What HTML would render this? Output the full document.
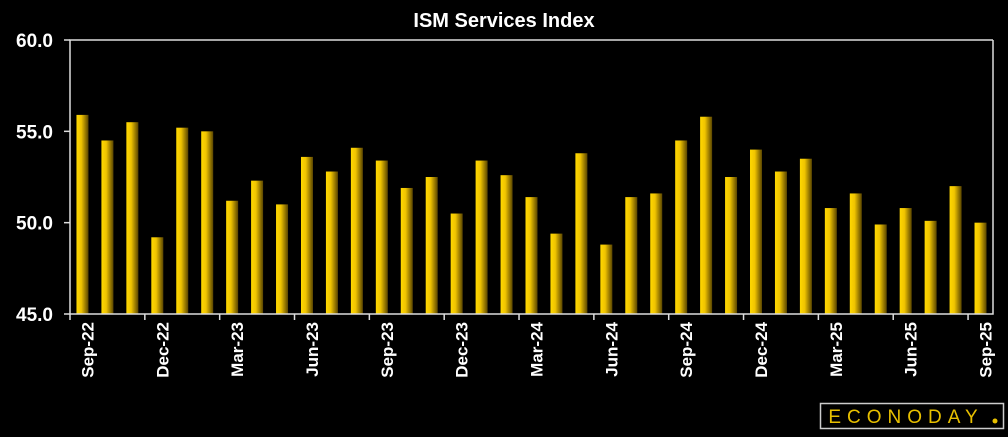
<!DOCTYPE html>
<html><head><meta charset="utf-8"><style>
body{margin:0;background:#000;width:1008px;height:432px;overflow:hidden;font-family:"Liberation Sans",sans-serif}
</style></head><body>
<svg width="1008" height="432" xmlns="http://www.w3.org/2000/svg">
<defs><linearGradient id="bg" x1="0" x2="1" y1="0" y2="0"><stop offset="0" stop-color="#ffd800"/><stop offset="0.4" stop-color="#f0c400"/><stop offset="1" stop-color="#5a4500"/></linearGradient></defs>
<text x="504" y="27" fill="#fff" font-size="20" font-weight="bold" text-anchor="middle">ISM Services Index</text>
<g id="bars"></g><g id="axes"></g>
<g>
<rect x="820.5" y="403.5" width="183" height="25" fill="#000" stroke="#ccc" stroke-width="1.5"/>
<text x="906" y="423" fill="#e8c000" font-size="19" text-anchor="middle" letter-spacing="6">ECONODAY</text>
<circle cx="995" cy="421" r="2.5" fill="#e8c000"/>
</g>
</svg>
<script>
const categories=["Sep-22","Oct-22","Nov-22","Dec-22","Jan-23","Feb-23","Mar-23","Apr-23","May-23","Jun-23","Jul-23","Aug-23","Sep-23","Oct-23","Nov-23","Dec-23","Jan-24","Feb-24","Mar-24","Apr-24","May-24","Jun-24","Jul-24","Aug-24","Sep-24","Oct-24","Nov-24","Dec-24","Jan-25","Feb-25","Mar-25","Apr-25","May-25","Jun-25","Jul-25","Aug-25","Sep-25"];
const values=[55.9,54.5,55.5,49.2,55.2,55.0,51.2,52.3,51.0,53.6,52.8,54.1,53.4,51.9,52.5,50.5,53.4,52.6,51.4,49.4,53.8,48.8,51.4,51.6,54.5,55.8,52.5,54.0,52.8,53.5,50.8,51.6,49.9,50.8,50.1,52.0,50.0];
const yTicks=[45,50,55,60];
const yTickLabels=["45.0","50.0","55.0","60.0"];
const NS="http://www.w3.org/2000/svg";
const L=70,R=993,T=40,B=314,yMin=45,yMax=60;
const slot=(R-L)/categories.length;
const x=i=>L+i*slot;
const y=v=>B-(v-yMin)/(yMax-yMin)*(B-T);
function mk(t,a,p){const e=document.createElementNS(NS,t);for(const k in a)e.setAttribute(k,a[k]);p.appendChild(e);return e;}
const bars=document.getElementById('bars'),axes=document.getElementById('axes');
values.forEach((v,i)=>{
const r=mk('rect',{x:x(i)+slot/2-6,y:y(v),width:12,height:B-y(v),fill:'url(#bg)'},bars);


});
const ax=mk('path',{d:`M${R},${T}H${L}V${B}H${R}V${T}`,stroke:'#ddd','stroke-width':1.5,fill:'none'},axes);


yTicks.forEach((t,i)=>{
mk('line',{x1:L-6,x2:L,y1:y(t),y2:y(t),stroke:'#ddd','stroke-width':1.5},axes);
const tx=mk('text',{x:L-17,y:y(t)+7,fill:'#fff','font-size':19,'font-weight':'bold','text-anchor':'end'},axes);
tx.textContent=yTickLabels[i];


});
categories.forEach((c,i)=>{
if(i%3!==0)return;
mk('line',{x1:x(i),x2:x(i),y1:B,y2:B+6,stroke:'#ddd','stroke-width':1.5},axes);
const cx=x(i)+slot/2+11;
const tx=mk('text',{x:cx,y:B+8,fill:'#fff','font-size':17,'font-weight':'bold','text-anchor':'end',transform:`rotate(-90 ${cx} ${B+8})`},axes);
tx.textContent=c;


});
</script>
</body></html>
